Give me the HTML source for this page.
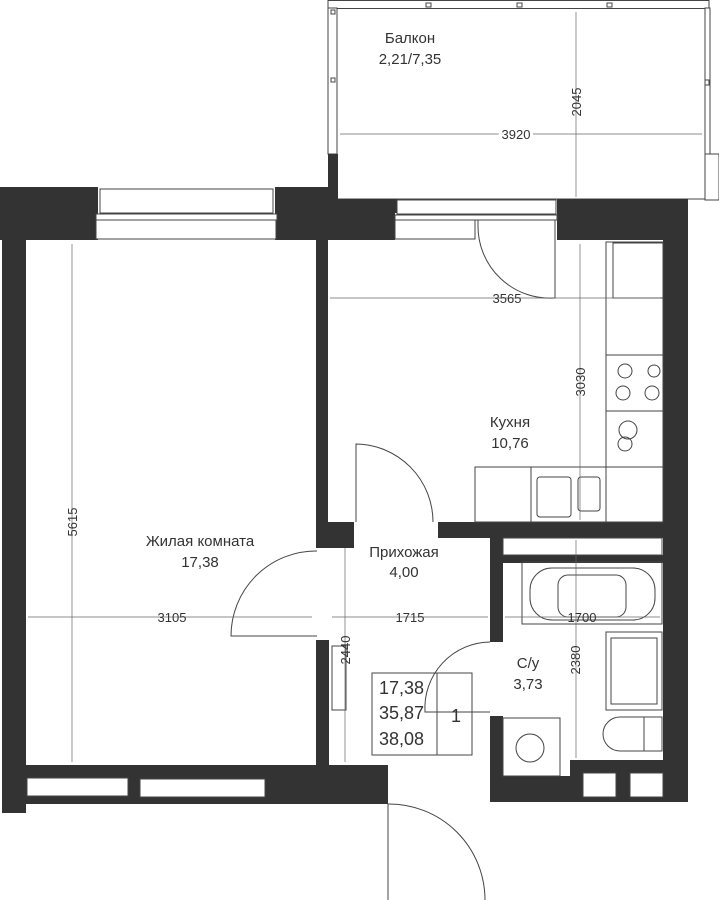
<!DOCTYPE html>
<html><head><meta charset="utf-8"><style>
html,body{margin:0;padding:0;background:#fff}
svg{display:block}
text{font-family:"Liberation Sans",sans-serif;fill:#333}
</style></head><body>
<svg width="719" height="900" viewBox="0 0 719 900" xmlns="http://www.w3.org/2000/svg">
<g fill="#fff" stroke="#444" stroke-width="1">
<!-- balcony -->
<rect x="328" y="0.5" width="381" height="8"/>
<rect x="328" y="8" width="9" height="146"/>
<rect x="705" y="8" width="5" height="146"/>
<rect x="705" y="154" width="14" height="46"/>
<line x1="337" y1="199" x2="705" y2="199"/>
<rect x="426" y="3" width="5" height="4"/><rect x="517" y="3" width="5" height="4"/><rect x="607" y="3" width="5" height="4"/>
<rect x="331" y="10" width="4" height="4"/><rect x="331" y="78" width="4" height="4"/><rect x="705" y="80" width="4" height="5"/>
</g>
<g fill="#333">
<!-- top walls -->
<rect x="0" y="187" width="98" height="53"/>
<rect x="275" y="187" width="53" height="53"/>
<rect x="328" y="154" width="10" height="46"/>
<rect x="320" y="199" width="78" height="14"/>
<rect x="275" y="199" width="120" height="41"/>
<rect x="557" y="199" width="131" height="41"/>
<rect x="663" y="199" width="25" height="603"/>
<!-- left wall -->
<rect x="2" y="187" width="24" height="626"/>
<!-- bottom living -->
<rect x="2" y="765" width="386" height="39"/>
<!-- partition living/kitchen -->
<rect x="316" y="240" width="12" height="308"/>
<rect x="316" y="522" width="38" height="26"/>
<rect x="316" y="640" width="13" height="125"/>
<!-- kitchen bottom -->
<rect x="438" y="522" width="225" height="16"/>
<!-- bathroom -->
<rect x="490" y="538" width="13" height="104"/>
<rect x="490" y="716" width="13" height="86"/>
<rect x="503" y="530" width="160" height="8"/>
<rect x="503" y="555" width="160" height="8"/>
<rect x="490" y="776" width="173" height="26"/>
<rect x="570" y="760" width="93" height="16"/>
</g>
<g fill="#fff" stroke="#444" stroke-width="1">
<!-- windows -->
<rect x="100" y="189" width="173" height="24"/>
<rect x="96" y="214" width="181" height="6"/>
<rect x="96" y="220" width="180" height="19"/>
<rect x="397" y="200" width="159" height="14"/>
<rect x="395" y="215" width="162" height="5"/>
<rect x="395" y="220" width="80" height="19"/>
<rect x="27" y="778" width="101" height="18"/>
<rect x="140" y="779" width="125" height="18"/>
<rect x="583" y="773" width="33" height="24"/>
<rect x="630" y="773" width="33" height="24"/>
<rect x="503" y="538" width="159" height="17"/>
<!-- radiator -->
<rect x="332" y="646" width="14" height="64"/>
</g>
<g fill="none" stroke="#444" stroke-width="1">
<!-- doors -->
<path d="M478 220 L478 225 A72 72 0 0 0 555 298 L555 220"/>
<path d="M433 522 A78 78 0 0 0 356 444 L356 522"/>
<path d="M317 551 A85 85 0 0 0 231 636 L317 636"/>
<path d="M490 642 A66 66 0 0 0 425 712 L490 712"/>
<path d="M388 804 L388 900 M388 804 A96 96 0 0 1 485 900"/>
<!-- kitchen furniture -->
<rect x="606" y="242" width="57" height="280"/>
<rect x="613" y="243" width="50" height="55"/>
<rect x="606" y="355" width="57" height="56"/>
<rect x="475" y="467" width="188" height="55"/>
<line x1="531" y1="467" x2="531" y2="522"/><line x1="606" y1="467" x2="606" y2="522"/>
<rect x="537" y="477" width="34" height="40" rx="3"/>
<rect x="578" y="477" width="22" height="34" rx="3"/>
<circle cx="625" cy="371" r="7"/><circle cx="654" cy="371" r="6"/><circle cx="623" cy="393" r="7"/><circle cx="652" cy="393" r="7"/>
<circle cx="628" cy="430" r="9"/><circle cx="625" cy="444" r="7"/>
<!-- bath -->
<rect x="522" y="562" width="140" height="62"/>
<rect x="530" y="568" width="125" height="52" rx="22"/>
<rect x="558" y="575" width="68" height="42" rx="10"/>
<rect x="606" y="632" width="56" height="78"/>
<rect x="611" y="638" width="46" height="66"/>
<path d="M662 717 L620 717 A17 17 0 0 0 620 751 L662 751"/>
<rect x="644" y="717" width="18" height="34"/>
<rect x="503" y="718" width="57" height="58"/>
<circle cx="530" cy="748" r="14"/>
<!-- area table -->
<rect x="372" y="673" width="100" height="82"/>
<line x1="437" y1="673" x2="437" y2="755"/>
</g>
<g stroke="#666" stroke-width="0.7" fill="none">
<line x1="340" y1="134" x2="702" y2="134"/>
<line x1="576" y1="12" x2="576" y2="197"/>
<line x1="330" y1="298" x2="660" y2="298"/>
<line x1="580" y1="244" x2="580" y2="520"/>
<line x1="28" y1="617" x2="312" y2="617"/>
<line x1="332" y1="617" x2="488" y2="617"/>
<line x1="505" y1="617" x2="660" y2="617"/>
<line x1="72" y1="244" x2="72" y2="762"/>
<line x1="345" y1="548" x2="345" y2="762"/>
<line x1="576" y1="540" x2="576" y2="758"/>
</g>
<g font-size="13">
<text x="410" y="43" text-anchor="middle" font-size="15">Балкон</text>
<text x="410" y="64" text-anchor="middle" font-size="15">2,21/7,35</text>
<text x="516" y="139" text-anchor="middle" fill="#fff" stroke="#fff" stroke-width="6">3920</text>
<text x="516" y="139" text-anchor="middle">3920</text>
<text x="507" y="303" text-anchor="middle">3565</text>
<text x="172" y="622" text-anchor="middle">3105</text>
<text x="410" y="622" text-anchor="middle">1715</text>
<text x="582" y="622" text-anchor="middle">1700</text>
<text transform="translate(581 102) rotate(-90)" text-anchor="middle">2045</text>
<text transform="translate(585 382) rotate(-90)" text-anchor="middle">3030</text>
<text transform="translate(77 522) rotate(-90)" text-anchor="middle">5615</text>
<text transform="translate(350 650) rotate(-90)" text-anchor="middle">2440</text>
<text transform="translate(580 660) rotate(-90)" text-anchor="middle">2380</text>
<text x="510" y="427" text-anchor="middle" font-size="15">Кухня</text>
<text x="510" y="448" text-anchor="middle" font-size="15">10,76</text>
<text x="200" y="546" text-anchor="middle" font-size="15">Жилая комната</text>
<text x="200" y="567" text-anchor="middle" font-size="15">17,38</text>
<text x="404" y="557" text-anchor="middle" font-size="15">Прихожая</text>
<text x="404" y="577" text-anchor="middle" font-size="15">4,00</text>
<text x="528" y="668" text-anchor="middle" font-size="15">С/у</text>
<text x="528" y="689" text-anchor="middle" font-size="15">3,73</text>
<text x="379" y="694" font-size="18">17,38</text>
<text x="379" y="719" font-size="18">35,87</text>
<text x="379" y="745" font-size="18">38,08</text>
<text x="456" y="722" text-anchor="middle" font-size="18">1</text>
</g>
</svg>
</body></html>
